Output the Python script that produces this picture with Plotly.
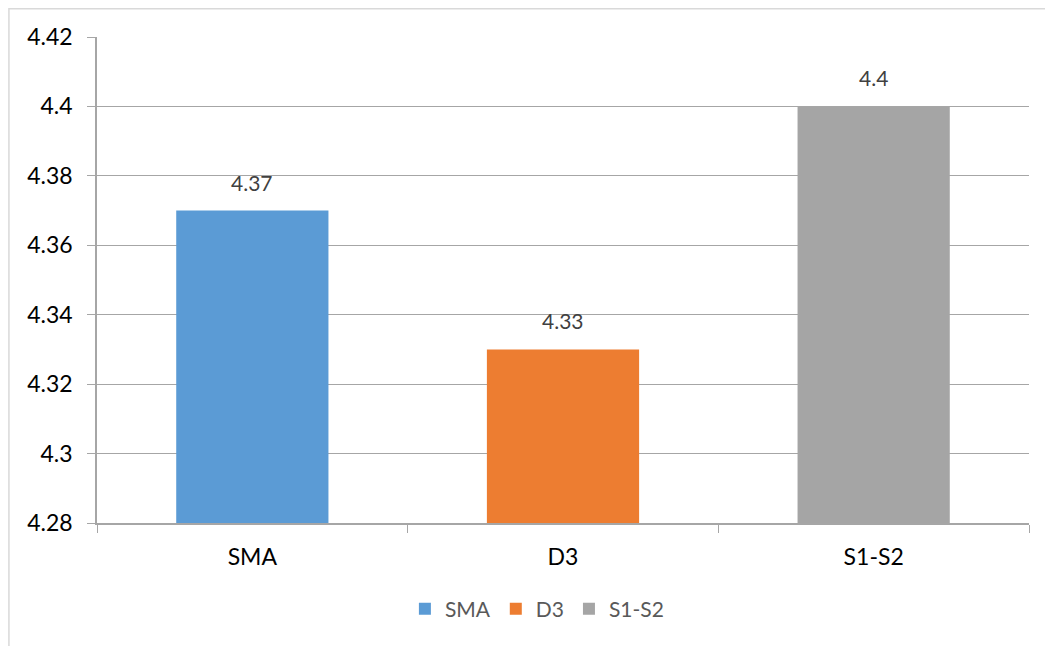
import plotly.graph_objects as go

categorias = ["SMA", "D3", "S1-S2"]
valores = [4.37, 4.33, 4.40]
etiquetas = ["4.37", "4.33", "4.4"]
colores = ["#5B9BD5", "#ED7D31", "#A5A5A5"]
y_ticks = [4.28, 4.30, 4.32, 4.34, 4.36, 4.38, 4.40, 4.42]
y_labels = ["4.28", "4.3", "4.32", "4.34", "4.36", "4.38", "4.4", "4.42"]
y_min = 4.28

FONT = "Lato, 'Open Sans', sans-serif"

fig = go.Figure()
for cat, val, col in zip(categorias, valores, colores):
    fig.add_trace(go.Bar(
        name=cat,
        x=[cat],
        y=[val - y_min],
        base=y_min,
        marker=dict(color=col, line=dict(width=0)),
        width=0.49,
    ))

# etiquetas de datos sobre cada barra
for cat, val, lab in zip(categorias, valores, etiquetas):
    fig.add_annotation(
        x=cat, y=val, text=lab, showarrow=False,
        yanchor="bottom", yshift=14,
        font=dict(family=FONT, size=21, color="#404040"),
    )

# marco del área del gráfico
fig.add_shape(
    type="rect", xref="paper", yref="paper",
    x0=-0.0945, x1=1.2, y0=-0.6, y1=1.058,
    line=dict(color="#d9d9d9", width=1.5), fillcolor="rgba(0,0,0,0)",
    layer="below",
)

fig.update_layout(
    width=1045,
    height=638,
    barmode="overlay",
    plot_bgcolor="white",
    paper_bgcolor="white",
    font=dict(family=FONT, size=21, color="black"),
    margin=dict(l=89, r=24, t=29, b=123),
    showlegend=True,
    legend=dict(
        orientation="h", x=0.472, xanchor="center", y=-0.177, yanchor="middle",
        font=dict(family=FONT, size=21, color="#595959"),
        itemwidth=30,
    ),
    xaxis=dict(
        showline=True, linecolor="#a6a6a6", linewidth=1.5,
        ticks="outside", tickson="boundaries", ticklen=8, tickcolor="#a6a6a6",
        tickfont=dict(size=23, color="black"),
        ticklabelstandoff=13,
        showgrid=False,
    ),
    yaxis=dict(
        range=[4.28, 4.42],
        tickvals=y_ticks, ticktext=y_labels,
        showline=True, linecolor="#a6a6a6", linewidth=1.5,
        ticks="outside", ticklen=8, tickcolor="#a6a6a6",
        showgrid=True, gridcolor="#a6a6a6", gridwidth=1.2,
        tickfont=dict(size=23, color="black"),
        ticklabelstandoff=10,
        zeroline=False,
    ),
)

fig.write_html("out.html")
